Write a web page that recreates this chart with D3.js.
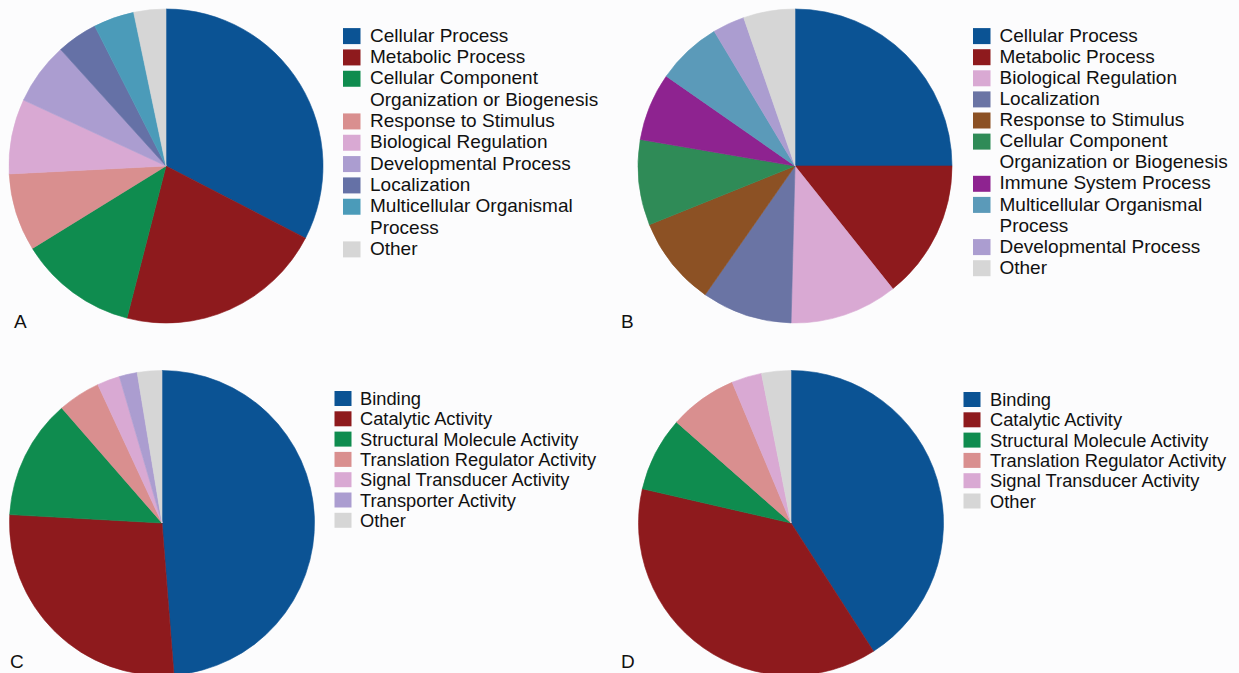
<!DOCTYPE html>
<html>
<head>
<meta charset="utf-8">
<script src="https://cdn.jsdelivr.net/npm/d3@7"></script>
<style>
  html, body { margin: 0; padding: 0; background: #fcfcfd; }
  svg { display: block; }
  text { font-family: "Liberation Sans", Arial, Helvetica, sans-serif; fill: #111; }
</style>
</head>
<body>
<svg id="chart" width="1239" height="673"></svg>
<script>
// ---------- Data ----------
const labelsA = ["Cellular Process", "Metabolic Process", "Cellular Component|Organization or Biogenesis",
  "Response to Stimulus", "Biological Regulation", "Developmental Process", "Localization",
  "Multicellular Organismal|Process", "Other"];
const valuesA = [32.6, 21.4, 12.2, 8.0, 7.7, 6.4, 4.2, 4.2, 3.3];
const colorsA = ["#0b5394", "#8e1a1d", "#0f8c4f", "#d98f8f", "#d9a9d3", "#ab9dd0", "#6571a6", "#4b9bb9", "#d6d6d6"];

const labelsB = ["Cellular Process", "Metabolic Process", "Biological Regulation", "Localization",
  "Response to Stimulus", "Cellular Component|Organization or Biogenesis", "Immune System Process",
  "Multicellular Organismal|Process", "Developmental Process", "Other"];
const valuesB = [25.0, 14.3, 11.1, 9.3, 9.2, 8.8, 7.0, 6.7, 3.3, 5.3];
const colorsB = ["#0b5394", "#8e1a1d", "#d9a9d3", "#6a74a4", "#8c5124", "#2f8b57", "#8e2390", "#5b9ab9", "#ab9dd0", "#d6d6d6"];

const labelsC = ["Binding", "Catalytic Activity", "Structural Molecule Activity", "Translation Regulator Activity",
  "Signal Transducer Activity", "Transporter Activity", "Other"];
const valuesC = [48.7, 27.1, 12.7, 4.5, 2.4, 1.9, 2.6];
const colorsC = ["#0b5394", "#8e1a1d", "#0f8c4f", "#d98f8f", "#d9a9d3", "#ab9dd0", "#d6d6d6"];

const labelsD = ["Binding", "Catalytic Activity", "Structural Molecule Activity", "Translation Regulator Activity",
  "Signal Transducer Activity", "Other"];
const valuesD = [40.9, 37.7, 7.9, 7.2, 3.2, 3.1];
const colorsD = ["#0b5394", "#8e1a1d", "#0f8c4f", "#d98f8f", "#d9a9d3", "#d6d6d6"];

const panelLetters = ["A", "B", "C", "D"];

// ---------- Layout ----------
const panels = [
  { letter: panelLetters[0], labels: labelsA, values: valuesA, colors: colorsA,
    cx: 166, cy: 166, r: 157, lx: 343, tx: 370, by: 41.7, rowH: 21.33, fs: 19, sw: 17.5, sh: 16, sOff: 13.6,
    px: 14, py: 328 },
  { letter: panelLetters[1], labels: labelsB, values: valuesB, colors: colorsB,
    cx: 795, cy: 166, r: 157, lx: 973, tx: 999.5, by: 41.7, rowH: 21.1, fs: 19, sw: 17.5, sh: 16, sOff: 13.6,
    px: 621, py: 328 },
  { letter: panelLetters[2], labels: labelsC, values: valuesC, colors: colorsC,
    cx: 162, cy: 523, r: 152.5, lx: 334.5, tx: 360, by: 405, rowH: 20.3, fs: 18.3, sw: 17, sh: 15, sOff: 14,
    px: 10, py: 668 },
  { letter: panelLetters[3], labels: labelsD, values: valuesD, colors: colorsD,
    cx: 791, cy: 523, r: 152.5, lx: 963.5, tx: 990, by: 406, rowH: 20.3, fs: 18.3, sw: 17, sh: 15, sOff: 14,
    px: 621, py: 668 }
];

const svg = d3.select("#chart");

panels.forEach(p => {
  const g = svg.append("g");
  const pie = d3.pie().sort(null).value(d => d);
  const arc = d3.arc().innerRadius(0).outerRadius(p.r);
  const color = d3.scaleOrdinal().domain(d3.range(p.values.length)).range(p.colors);

  g.append("g")
    .attr("transform", `translate(${p.cx},${p.cy})`)
    .selectAll("path")
    .data(pie(p.values))
    .join("path")
    .attr("d", arc)
    .attr("fill", (d, i) => color(i))
    .attr("stroke", (d, i) => color(i))
    .attr("stroke-width", 0.6);

  // legend
  const leg = g.append("g");
  let row = 0;
  p.labels.forEach((lab, i) => {
    const lines = lab.split("|");
    const y0 = p.by + row * p.rowH;
    leg.append("rect")
      .attr("x", p.lx).attr("y", y0 - p.sOff)
      .attr("width", p.sw).attr("height", p.sh)
      .attr("fill", color(i));
    lines.forEach((ln, k) => {
      leg.append("text")
        .attr("x", p.tx).attr("y", y0 + k * p.rowH)
        .attr("font-size", p.fs)
        .text(ln);
    });
    row += lines.length;
  });

  g.append("text")
    .attr("x", p.px).attr("y", p.py)
    .attr("font-size", 19)
    .text(p.letter);
});
</script>
</body>
</html>
